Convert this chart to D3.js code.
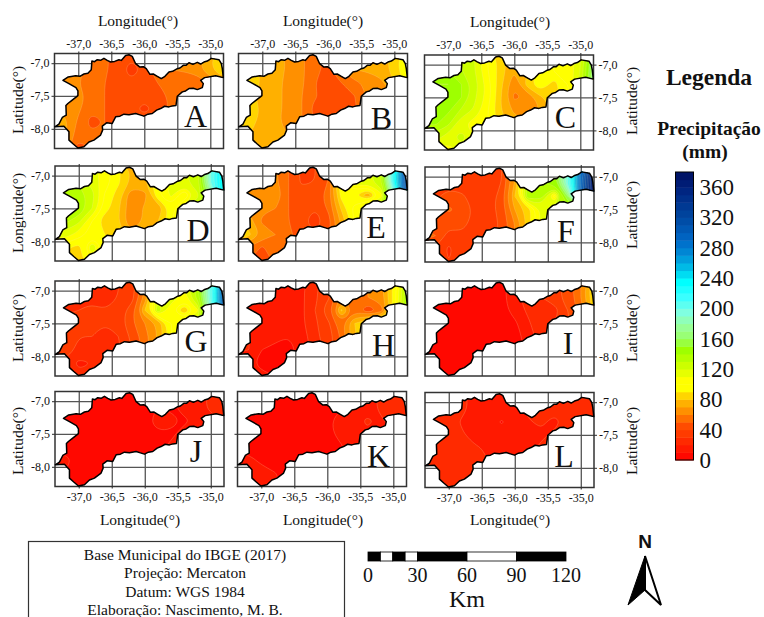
<!DOCTYPE html>
<html>
<head>
<meta charset="utf-8">
<script src="https://cdn.jsdelivr.net/npm/d3@7"></script>
<style>
body { margin: 0; background: #fff; }
svg { display: block; }
text { font-family: "Liberation Serif", serif; fill: #111; }
</style>
</head>
<body>
<div id="chart"></div>
<script>
// municipality outline, lon / lat
const outlineLon = [-37.354,-37.293,-37.242,-37.182,-37.187,-37.157,-37.106,-37.005,-37.005,-37.035,-37.141,-37.232,-37.152,-37.040,-36.975,-36.914,-36.854,-36.803,-36.793,-36.753,-36.712,-36.662,-36.611,-36.561,-36.510,-36.449,-36.384,-36.348,-36.283,-36.232,-36.182,-36.131,-36.066,-36.015,-35.970,-35.914,-35.864,-35.803,-35.742,-35.687,-35.626,-35.571,-35.500,-35.460,-35.409,-35.369,-35.323,-35.263,-35.197,-35.146,-35.096,-35.045,-34.985,-34.869,-34.833,-34.818,-34.803,-34.919,-35.086,-35.146,-35.106,-35.121,-35.197,-35.258,-35.323,-35.374,-35.424,-35.500,-35.520,-35.576,-35.626,-35.692,-35.753,-35.813,-35.879,-35.944,-36.005,-36.066,-36.131,-36.232,-36.308,-36.369,-36.434,-36.485,-36.571,-36.636,-36.631,-36.662,-36.763,-36.838,-36.914,-37.005,-37.076,-37.141,-37.141,-37.217];
const outlineLat = [-7.970,-7.929,-7.828,-7.793,-7.646,-7.616,-7.576,-7.495,-7.424,-7.374,-7.313,-7.263,-7.212,-7.192,-7.202,-7.167,-7.157,-7.101,-6.970,-6.980,-6.949,-6.959,-6.929,-6.960,-6.985,-6.975,-6.949,-6.960,-6.884,-6.874,-6.899,-7.010,-7.061,-7.056,-7.086,-7.172,-7.167,-7.202,-7.237,-7.202,-7.136,-7.126,-7.086,-7.076,-7.035,-7.035,-6.995,-7.020,-6.990,-7.015,-6.985,-6.970,-6.929,-6.949,-7.010,-7.086,-7.222,-7.192,-7.222,-7.263,-7.313,-7.374,-7.404,-7.384,-7.389,-7.424,-7.439,-7.505,-7.646,-7.652,-7.667,-7.657,-7.692,-7.717,-7.768,-7.778,-7.808,-7.788,-7.768,-7.788,-7.778,-7.808,-7.818,-7.919,-7.909,-7.960,-8.020,-8.096,-8.172,-8.202,-8.273,-8.293,-8.232,-8.172,-8.045,-7.960];

// precipitation grid (mm), one row per latitude, one column per longitude
const gridLon = [-37.4,-37.2,-37.0,-36.8,-36.6,-36.4,-36.2,-36.0,-35.8,-35.6,-35.4,-35.2,-35.0,-34.8];
const gridLat = [-6.9,-7.1,-7.3,-7.5,-7.7,-7.9,-8.1,-8.3];

const precipA = [
  [70,68,62,58,52,45,42,42,55,60,62,66,78,92],
  [70,68,62,58,52,45,35,42,60,60,62,66,78,92],
  [72,65,60,55,50,42,42,42,50,58,50,52,62,72],
  [75,68,62,58,50,42,42,42,45,52,60,60,60,60],
  [78,65,62,52,50,44,42,38,42,52,58,58,58,58],
  [85,72,58,46,50,46,44,44,48,52,58,58,58,58],
  [85,72,54,52,50,48,44,44,48,52,58,58,58,58],
  [80,68,44,50,50,48,44,44,48,52,58,58,58,58]];
const precipB = [
  [92,85,78,75,68,62,52,48,60,70,72,74,85,100],
  [92,85,78,75,68,62,52,48,60,70,72,74,85,100],
  [95,92,78,72,68,62,50,48,50,58,62,68,80,95],
  [90,85,74,72,68,60,52,42,42,50,62,66,70,80],
  [90,88,78,72,68,60,45,40,40,48,60,62,66,70],
  [90,85,76,72,66,60,50,46,46,50,60,62,66,70],
  [85,80,74,80,70,62,52,50,50,52,60,62,66,70],
  [82,76,72,74,70,62,52,50,50,52,60,62,66,70]];
const precipC = [
  [135,135,135,130,120,100,85,70,80,95,100,100,120,165],
  [140,142,140,130,120,100,85,70,80,95,100,100,120,165],
  [148,150,150,140,125,105,82,62,85,100,85,100,125,175],
  [148,148,145,140,122,105,80,58,62,78,88,95,110,130],
  [145,145,142,128,118,100,80,68,64,70,82,90,100,110],
  [140,142,132,112,105,100,85,75,72,75,82,90,100,110],
  [125,125,115,125,110,100,90,80,78,78,85,90,100,110],
  [115,110,105,115,105,100,90,80,78,78,85,90,100,110]];
const precipD = [
  [130,125,120,115,105,92,78,78,100,115,118,125,200,245],
  [135,135,128,115,105,92,78,78,100,115,118,125,200,245],
  [140,140,135,125,98,85,62,66,98,112,90,118,170,255],
  [140,140,140,120,95,82,62,72,72,95,120,125,140,170],
  [132,132,122,100,82,80,60,72,80,98,115,120,130,150],
  [115,115,105,95,90,85,75,78,85,98,115,120,130,150],
  [95,92,85,120,95,88,80,80,88,100,115,120,130,150],
  [90,88,85,100,92,88,80,80,88,100,115,120,130,150]];
const precipE = [
  [65,65,62,62,50,38,40,50,100,120,115,130,230,320],
  [65,65,62,62,50,38,40,50,100,120,115,130,230,320],
  [68,65,62,70,50,46,44,55,95,90,72,105,190,330],
  [72,68,62,60,50,46,40,52,82,105,125,130,150,200],
  [85,75,58,55,50,42,34,45,72,100,120,125,140,170],
  [88,82,68,60,52,46,42,48,72,100,120,125,140,170],
  [70,58,48,58,52,48,44,50,72,100,120,125,140,170],
  [60,50,45,52,50,48,44,50,72,100,120,125,140,170]];
const precipF = [
  [38,38,36,34,34,34,40,70,130,140,145,200,290,370],
  [38,38,36,34,34,34,40,70,130,140,145,200,290,370],
  [38,38,44,42,34,34,45,80,140,135,95,160,300,375],
  [44,44,52,46,38,36,44,70,85,110,130,135,150,200],
  [48,45,44,44,36,34,42,60,85,115,130,135,150,170],
  [55,50,36,38,36,36,42,60,85,115,130,135,150,170],
  [42,38,28,36,36,36,42,60,85,115,130,135,150,170],
  [36,34,30,34,36,36,42,60,85,115,130,135,150,170]];
const precipG = [
  [28,28,28,28,28,30,35,62,115,115,108,135,205,300],
  [28,28,28,28,28,30,35,62,115,115,108,135,205,300],
  [28,28,30,32,30,34,45,80,128,102,80,108,195,310],
  [34,34,38,30,30,34,48,60,72,100,115,125,150,190],
  [38,35,30,30,26,30,42,55,72,98,118,125,140,160],
  [42,38,26,20,20,28,40,55,72,98,118,125,140,160],
  [30,26,18,20,22,28,40,55,72,98,118,125,140,160],
  [26,24,22,22,22,28,40,55,72,98,118,125,140,160]];
const precipH = [
  [18,18,16,16,16,18,28,38,60,55,60,65,95,140],
  [18,18,16,16,16,18,28,38,60,55,60,65,95,140],
  [18,18,18,15,10,18,30,48,82,58,42,55,95,150],
  [20,20,18,18,18,18,28,38,58,80,95,100,110,130],
  [20,20,18,14,10,14,28,34,52,78,95,100,110,120],
  [22,20,10,6,6,14,24,34,52,78,95,100,110,120],
  [14,12,7,8,8,14,24,34,52,78,95,100,110,120],
  [12,12,12,10,10,14,24,34,52,78,95,100,110,120]];
const precipI = [
  [4,4,4,4,4,6,8,14,28,30,38,42,60,90],
  [4,4,4,4,4,6,8,14,28,30,38,42,60,90],
  [4,4,4,4,4,4,6,14,22,28,25,40,55,85],
  [4,4,4,4,4,4,6,8,18,28,30,38,50,65],
  [4,4,4,4,4,4,4,6,14,26,30,36,45,55],
  [4,4,4,4,4,4,4,6,12,22,28,36,45,55],
  [4,4,4,4,4,4,4,6,12,22,28,36,45,55],
  [4,4,4,4,4,4,4,6,12,22,28,36,45,55]];
const precipJ = [
  [6,6,6,6,6,6,6,6,10,8,14,16,22,28],
  [6,6,6,6,6,6,6,6,10,8,14,16,22,28],
  [6,6,6,6,6,6,6,6,16,14,8,14,16,22],
  [6,6,6,6,6,6,6,6,8,8,14,14,15,16],
  [6,6,6,6,6,6,6,6,8,12,14,14,15,16],
  [15,13,6,6,6,6,6,6,8,10,12,14,15,16],
  [13,9,6,6,6,6,6,6,8,10,12,14,15,16],
  [6,6,6,6,6,6,6,6,8,10,12,14,15,16]];
const precipK = [
  [6,6,6,6,6,6,6,8,9,12,14,22,25,30],
  [6,6,6,6,6,6,6,8,9,12,14,22,25,30],
  [6,6,6,6,6,6,6,8,14,14,22,18,24,30],
  [6,6,6,6,6,6,6,8,12,14,18,18,20,24],
  [6,6,6,6,6,6,6,6,9,14,16,18,20,22],
  [14,13,8,6,6,6,6,6,9,12,16,18,20,22],
  [14,14,14,10.5,7,6,6,6,9,12,16,18,20,22],
  [14,14,14,12,8,6,6,6,9,12,16,18,20,22]];
const precipL = [
  [24,24,24,22,17,17,16,17,22,24,24,26,28,30],
  [24,24,24,22,17,17,16,17,22,24,24,26,28,30],
  [24,24,24,19,16,15,9,15,19,22,17,24,28,30],
  [24,24,24,21,17,16,14,15,17,18,22,25,26,28],
  [25,24,25,21,21,19,17,16,17,22,24,25,26,28],
  [26,25,24,21,23,20,18,17,18,22,24,25,26,28],
  [27,26,26,24,23,20,18,17,18,22,24,25,26,28],
  [27,27,27,25,23,20,18,17,18,22,24,25,26,28]];

const panelNames = ["A","B","C","D","E","F","G","H","I","J","K","L"];
const panelValues = [precipA,precipB,precipC,precipD,precipE,precipF,precipG,precipH,precipI,precipJ,precipK,precipL];

const lonTicks = [-37,-36.5,-36,-35.5,-35];
const latTicks = [-7,-7.5,-8];

// legend
const bandStep = 10;
const bandEdges = d3.range(0, 380, bandStep);
const legendTicks = d3.range(0, 361, 40);
const colorStopValues = [0,45,60,80,95,105,125,147,160,178,195,213,235,253,270,290,320,360,380];
const colorStopHexes = ["#ff0000","#ff4c00","#ff8000","#ffc000","#ffff00","#ffff00","#ccff00","#99ff00","#99ff66","#99ffa0","#80ffe0","#40ffff","#00ffff","#00c0e8","#0090d8","#0068c8","#0048a0","#00207c","#001060"];

// scale bar
const scaleBarStops = [0,7.5,15,22.5,30,60,90,120];
const scaleBarTicks = [0,30,60,90,120];

const noteLines = ["Base Municipal do IBGE (2017)","Projeção: Mercaton","Datum: WGS 1984","Elaboração: Nascimento, M. B."];

// layout: top left corner of each frame and where its big letter sits
const panelW = 169, panelH = 95;
const panelLeft = [54.5,238.5,424.5,55,238.5,425,55,238.5,425,55,237.5,425];
const panelTop = [53.5,53.5,55,166,166,167,281,281,281,391.5,391.5,392.5];
const letterX = [141,143,141,143,137.5,141,141,145,143,141,141,139];
const letterY = [73.5,75,73,75,72,74.7,71,74.7,73,70,75,74];

const width = 764, height = 617;
const svg = d3.select("#chart").append("svg").attr("width", width).attr("height", height);

const lonScale = d3.scaleLinear().domain([-37.36, -34.80]).range([0, panelW]);
const latScale = d3.scaleLinear().domain([-6.855, -8.30]).range([0, panelH]);

const bandColor = d3.scaleLinear().domain(colorStopValues).range(colorStopHexes);

const outlinePoints = outlineLon.map((lon, i) => [lonScale(lon), latScale(outlineLat[i])]);
const outlinePath = d3.line().curve(d3.curveLinear)(outlinePoints) + "Z";

svg.append("defs").append("clipPath").attr("id", "region")
  .append("path").attr("d", outlinePath);

const fmtTick = v => v.toFixed(1).replace(".", ",");
const contourGen = d3.contours().size([gridLon.length, gridLat.length]).thresholds(bandEdges);
const ringLine = d3.line().curve(d3.curveBasisClosed);

// contour cell coords -> panel pixels
const cellX = d3.scaleLinear().domain([0.5, gridLon.length - 0.5]).range([lonScale(gridLon[0]), lonScale(gridLon[gridLon.length - 1])]);
const cellY = d3.scaleLinear().domain([0.5, gridLat.length - 0.5]).range([latScale(gridLat[0]), latScale(gridLat[gridLat.length - 1])]);

function contourPath(c) {
  let d = "";
  c.coordinates.forEach(poly => poly.forEach(ring => {
    d += ringLine(ring.slice(0, -1).map(p => [cellX(p[0]), cellY(p[1])]));
  }));
  return d;
}

panelNames.forEach((name, i) => {
  const col = i % 3, row = Math.floor(i / 3);
  const g = svg.append("g").attr("transform", `translate(${panelLeft[i]},${panelTop[i]})`);

  // grid lines and ticks
  const xAxis = (row === 3 ? d3.axisBottom(lonScale) : d3.axisTop(lonScale))
    .tickValues(lonTicks).tickSizeOuter(0).tickPadding(4);
  const yAxis = (col === 2 ? d3.axisRight(latScale) : d3.axisLeft(latScale))
    .tickValues(latTicks).tickSizeOuter(0).tickPadding(2);
  xAxis.tickSizeInner(-(panelH + 2)).tickFormat(row === 0 || row === 3 ? fmtTick : "");
  yAxis.tickSizeInner(-(panelW + 3)).tickFormat(col !== 1 ? fmtTick : "");

  const gx = g.append("g").attr("transform", `translate(0,${row === 3 ? panelH + 2 : -2})`).call(xAxis);
  const gy = g.append("g").attr("transform", `translate(${col === 2 ? panelW + 3 : -3},0)`).call(yAxis);
  [gx, gy].forEach(a => {
    a.select(".domain").remove();
    a.selectAll("line").attr("stroke", "#555").attr("stroke-width", 1.3);
    a.selectAll("text").attr("font-size", 12).style("font-family", '"Liberation Serif", serif').attr("fill", "#222");
  });

  g.append("rect").attr("width", panelW).attr("height", panelH)
    .attr("fill", "none").attr("stroke", "#333").attr("stroke-width", 1.5);

  // precipitation surface, clipped to the outline
  const field = g.append("g").attr("clip-path", "url(#region)");
  const contours = contourGen(panelValues[i].flat());
  field.selectAll("path").data(contours).enter().append("path")
    .attr("d", contourPath)
    .attr("fill-rule", "evenodd")
    .attr("fill", d => bandColor(d.value + bandStep / 2))
    .attr("stroke", d => d.value === 0 ? "none" : "#ffe6b4")
    .attr("stroke-opacity", 0.35)
    .attr("stroke-width", 0.6);

  g.append("path").attr("d", outlinePath)
    .attr("fill", "none").attr("stroke", "#000").attr("stroke-width", 1.5).attr("stroke-linejoin", "round");

  g.append("text").attr("x", letterX[i]).attr("y", letterY[i])
    .attr("text-anchor", "middle").attr("font-size", 32).text(name);
});

// axis titles
const titleSize = 15.5;
[[138,26],[323,26],[510,27],[140,525],[323,525],[510,525]].forEach(p => {
  svg.append("text").attr("x", p[0]).attr("y", p[1]).attr("text-anchor", "middle")
    .attr("font-size", titleSize).text("Longitude(°)");
});
const latTitles = [
  [23,100,"Latitude(°)"],[23,213,"Longitude(°)"],[23,328,"Latitude(°)"],[23,441,"Latitude(°)"],
  [637,101,"Latitude(°)"],[637,215,"Latitude(°)"],[637,328,"Latitude(°)"],[637,441,"Latitude(°)"]];
latTitles.forEach(t => {
  svg.append("text").attr("transform", `translate(${t[0]},${t[1]}) rotate(-90)`)
    .attr("text-anchor", "middle").attr("font-size", titleSize).text(t[2]);
});

// legend
svg.append("text").attr("x", 709).attr("y", 85).attr("text-anchor", "middle")
  .attr("font-size", 23.5).attr("font-weight", "bold").text("Legenda");
svg.append("text").attr("x", 709).attr("y", 135).attr("text-anchor", "middle")
  .attr("font-size", 19.5).attr("font-weight", "bold").text("Precipitação");
svg.append("text").attr("x", 705).attr("y", 158).attr("text-anchor", "middle")
  .attr("font-size", 19.5).attr("font-weight", "bold").text("(mm)");

const legendScale = d3.scaleLinear().domain([0, 380]).range([460, 172]);
svg.append("g").selectAll("rect").data(bandEdges).enter().append("rect")
  .attr("x", 675.5).attr("width", 18)
  .attr("y", d => legendScale(d + bandStep))
  .attr("height", d => legendScale(d) - legendScale(d + bandStep) + 0.5)
  .attr("fill", d => bandColor(d + bandStep / 2));
svg.append("rect").attr("x", 675.5).attr("y", 172).attr("width", 18).attr("height", 288)
  .attr("fill", "none").attr("stroke", "#000").attr("stroke-width", 1);
const legendAxis = svg.append("g").attr("transform", "translate(693.5,0)")
  .call(d3.axisRight(legendScale).tickValues(legendTicks).tickSize(0).tickPadding(6).tickFormat(d3.format("d")));
legendAxis.select(".domain").remove();
legendAxis.selectAll("text").attr("font-size", 23).style("font-family", '"Liberation Serif", serif').attr("fill", "#111");

// note box, runs off the bottom like the original
svg.append("rect").attr("x", 28.5).attr("y", 541.5).attr("width", 316).attr("height", 90)
  .attr("fill", "#fff").attr("stroke", "#333").attr("stroke-width", 1.2);
svg.selectAll(".note").data(noteLines).enter().append("text")
  .attr("class", "note").attr("x", 185).attr("y", (d, i) => 560 + i * 18.3)
  .attr("text-anchor", "middle").attr("font-size", 15.5).text(d => d);

// scale bar
const kmScale = d3.scaleLinear().domain([0, 120]).range([368, 566]);
svg.append("g").selectAll("rect").data(scaleBarStops.slice(0, -1)).enter().append("rect")
  .attr("x", d => kmScale(d))
  .attr("y", 552).attr("height", 9)
  .attr("width", (d, i) => kmScale(scaleBarStops[i + 1]) - kmScale(d))
  .attr("fill", (d, i) => i % 2 ? "#fff" : "#000")
  .attr("stroke", "#000").attr("stroke-width", 0.8);
svg.selectAll(".km").data(scaleBarTicks).enter().append("text")
  .attr("class", "km").attr("x", d => kmScale(d)).attr("y", 582)
  .attr("text-anchor", "middle").attr("font-size", 20).text(d => d);
svg.append("text").attr("x", 467).attr("y", 607).attr("text-anchor", "middle")
  .attr("font-size", 24).text("Km");

// north arrow
svg.append("text").attr("x", 645).attr("y", 548).attr("text-anchor", "middle")
  .style("font-family", '"Liberation Sans", sans-serif').attr("font-size", 19).attr("font-weight", "bold").text("N");
svg.append("path").attr("d", "M645,556 L628,605 L645,590 Z").attr("fill", "#000").attr("stroke", "#000");
svg.append("path").attr("d", "M645,556 L661,605 L645,590 Z").attr("fill", "#fff").attr("stroke", "#000").attr("stroke-width", 2);
</script>
</body>
</html>
